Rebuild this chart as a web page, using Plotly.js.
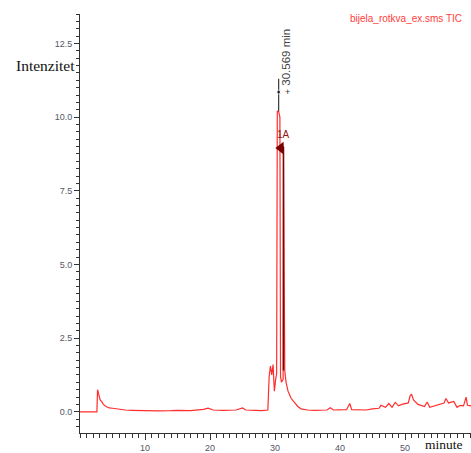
<!DOCTYPE html>
<html>
<head>
<meta charset="utf-8">
<script src="https://cdn.plot.ly/plotly-3.0.1.min.js"></script>
<style>html,body{margin:0;padding:0;background:#fff;}#chart{width:471px;height:453px;}</style>
</head>
<body>
<div id="chart"></div>
<script>
// Retention time (minutes) and intensity of the TIC trace
const timeMin = [0, 2.6, 2.7, 2.9, 3.1, 3.3, 3.6, 4.0, 4.5, 5.0, 5.5, 6.0, 7.0, 8.0, 9.0, 10.0, 12.0, 14.0, 15.0, 17.0, 18.0, 19.0, 19.7, 20.5, 22.0, 24.0, 25.0, 25.5, 27.0, 28.0, 28.9, 29.1, 29.3, 29.5, 29.7, 29.9, 30.1, 30.25, 30.35, 30.55, 30.75, 30.85, 31.0, 31.25, 31.3, 31.5, 31.7, 32.0, 32.5, 33.0, 33.5, 34.0, 35.0, 36.0, 38.0, 38.5, 39.0, 41.0, 41.5, 41.8, 44.0, 45.0, 46.0, 46.3, 47.0, 47.5, 48.0, 48.5, 49.0, 49.5, 50.5, 50.8, 51.0, 51.3, 52.0, 53.0, 53.4, 53.8, 55.0, 56.0, 56.3, 56.7, 57.5, 58.0, 58.5, 59.0, 59.4, 59.6, 60.2];
const intensity = [0, 0, 0.75, 0.55, 0.4, 0.35, 0.25, 0.18, 0.13, 0.12, 0.1, 0.08, 0.06, 0.05, 0.04, 0.04, 0.03, 0.04, 0.05, 0.04, 0.05, 0.08, 0.12, 0.06, 0.05, 0.06, 0.13, 0.06, 0.05, 0.04, 0.06, 1.2, 1.55, 1.25, 1.6, 0.7, 1.1, 1.3, 10.2, 10.2, 10.0, 1.2, 1.0, 1.1, 9.0, 1.4, 1.0, 0.7, 0.45, 0.3, 0.18, 0.1, 0.06, 0.05, 0.06, 0.14, 0.06, 0.07, 0.28, 0.07, 0.06, 0.1, 0.12, 0.22, 0.15, 0.28, 0.15, 0.32, 0.2, 0.25, 0.3, 0.55, 0.6, 0.4, 0.25, 0.18, 0.33, 0.15, 0.22, 0.3, 0.45, 0.3, 0.35, 0.15, 0.22, 0.2, 0.5, 0.22, 0.2];

// Integrated peak 1A edge segment (dark red)
const peak1ATime = [31.3, 31.3];
const peak1AIntensity = [9.0, 1.4];

// Peak apex label
const apexTime = 30.569;
const apexLabel = "30.569 min";
const apexTickIntensity = [10.2, 10.85, 11.3];
const peakName = "1A";
const peakMarkerTime = [30.9];
const peakMarkerIntensity = [8.95];

const xTickVals = [10, 20, 30, 40, 50];
const yTickVals = [0, 2.5, 5, 7.5, 10, 12.5];
const yTickText = ["0.0", "2.5", "5.0", "7.5", "10.0", "12.5"];

const traces = [
  {x: timeMin, y: intensity, mode: 'lines', line: {color: 'rgb(255,45,45)', width: 1.2}, hoverinfo: 'skip'},
  {x: peak1ATime, y: peak1AIntensity, mode: 'lines', line: {color: 'rgb(110,10,10)', width: 1.5}, hoverinfo: 'skip'},
  {x: apexTickIntensity.map(() => apexTime), y: apexTickIntensity, mode: 'lines+markers', line: {color: '#111', width: 1},
   marker: {size: [0, 4, 0], color: '#111'}, hoverinfo: 'skip'},
  {x: peakMarkerTime, y: peakMarkerIntensity, mode: 'markers', marker: {symbol: 'triangle-left', size: 11, color: 'rgb(120,0,0)'}, hoverinfo: 'skip'}
];

const layout = {
  width: 471, height: 453,
  margin: {l: 80, r: 0, t: 14, b: 20},
  paper_bgcolor: '#fff', plot_bgcolor: '#fff',
  showlegend: false,
  font: {family: 'Liberation Sans, Arial, sans-serif', size: 9, color: '#555'},
  xaxis: {
    range: [0, 60.15], showgrid: false, zeroline: false,
    showline: true, linecolor: '#333', linewidth: 1,
    ticks: 'outside', ticklen: 6, tickcolor: '#333', tickwidth: 1,
    tickvals: xTickVals, ticktext: xTickVals.map(String),
    tickfont: {size: 9, color: '#556'},
    minor: {dtick: 1, ticks: 'outside', ticklen: 4, tickcolor: '#333', showgrid: false}
  },
  yaxis: {
    range: [-0.72, 13.5], showgrid: false, zeroline: false,
    showline: true, linecolor: '#333', linewidth: 1,
    ticks: 'outside', ticklen: 5, tickcolor: '#333', tickwidth: 1,
    tickvals: yTickVals, ticktext: yTickText,
    tickfont: {size: 9, color: '#556'},
    minor: {dtick: 0.25, tick0: 0, ticks: 'outside', ticklen: 3, tickcolor: '#333', showgrid: false}
  },
  annotations: [
    {text: 'bijela_rotkva_ex.sms TIC', xref: 'paper', yref: 'paper', x: 0.982, y: 0.99, xanchor: 'right', yanchor: 'middle',
     showarrow: false, font: {family: 'Liberation Sans, Arial, sans-serif', size: 10, color: 'rgb(255,60,60)'}},
    {text: 'Intenzitet', xref: 'paper', yref: 'paper', x: -0.008, y: 0.878, xanchor: 'right', yanchor: 'middle',
     showarrow: false, font: {family: 'Liberation Serif, DejaVu Serif, serif', size: 15.5, color: '#111'}},
    {text: 'minute', xref: 'paper', yref: 'paper', x: 0.985, y: -0.027, xanchor: 'right', yanchor: 'middle',
     showarrow: false, font: {family: 'Liberation Serif, DejaVu Serif, serif', size: 13.5, color: '#111'}},
    {text: apexLabel, x: apexTime + 1.2, y: 11.0, xref: 'x', yref: 'y', textangle: -90, xanchor: 'center', yanchor: 'bottom',
     showarrow: false, font: {size: 11.5, color: '#444'}},
    {text: '+', x: apexTime + 1.4, y: 10.85, xref: 'x', yref: 'y', showarrow: false, font: {size: 9, color: '#333'}},
    {text: peakName, x: apexTime + 0.75, y: 9.4, xref: 'x', yref: 'y', showarrow: false, font: {size: 10, color: 'rgb(150,20,20)'}}
  ]
};

Plotly.newPlot('chart', traces, layout, {displayModeBar: false, staticPlot: true});
</script>
</body>
</html>
